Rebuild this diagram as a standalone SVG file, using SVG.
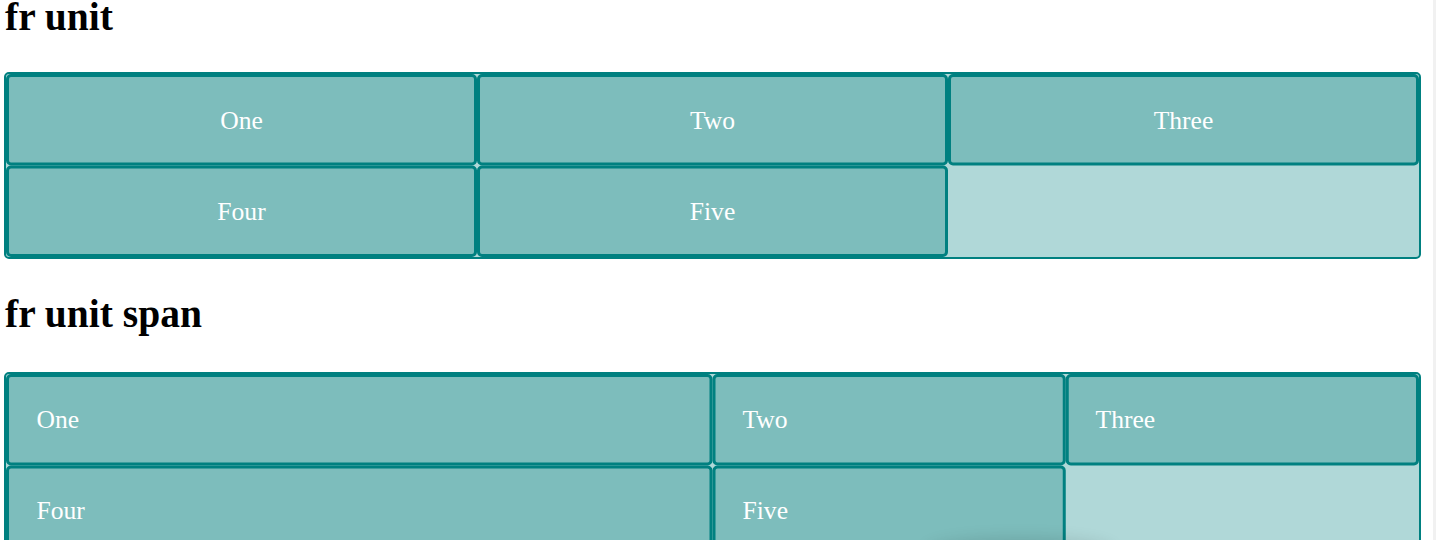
<svg xmlns="http://www.w3.org/2000/svg" width="1436" height="540" viewBox="0 0 1436 540">
<style>
  .h { font-family: "Liberation Serif", "Times New Roman", serif; font-weight: bold; font-size: 39.5px; fill: #000; }
  .wrap { fill: #b0d8d8; stroke: #008080; stroke-width: 2; }
  .item { fill: #7dbdbc; stroke: #008080; stroke-width: 3; }
  .t { font-family: "Liberation Serif", "Times New Roman", serif; font-size: 25.6px; fill: #ffffff; }
  .c { text-anchor: middle; }
</style>
<defs>
  <filter id="blur" x="-50%" y="-50%" width="200%" height="200%">
    <feGaussianBlur stdDeviation="8"/>
  </filter>
</defs>
<rect x="0" y="0" width="1436" height="540" fill="#ffffff"/>
<rect x="1433" y="0" width="3" height="540" fill="#f1f1f1"/>

<text class="h" x="5" y="29.5">fr unit</text>

<g id="grid1">
  <rect class="wrap" x="5" y="73" width="1415" height="185" rx="4"/>
  <g id="g1-one"><rect class="item" x="7.5" y="75.5" width="468" height="88.5" rx="3.5"/><text class="t c" x="241.5" y="129">One</text></g>
  <g id="g1-two"><rect class="item" x="478.5" y="75.5" width="468" height="88.5" rx="3.5"/><text class="t c" x="712.5" y="129">Two</text></g>
  <g id="g1-three"><rect class="item" x="949.5" y="75.5" width="468" height="88.5" rx="3.5"/><text class="t c" x="1183.5" y="129">Three</text></g>
  <g id="g1-four"><rect class="item" x="7.5" y="167" width="468" height="88.5" rx="3.5"/><text class="t c" x="241.5" y="219.5">Four</text></g>
  <g id="g1-five"><rect class="item" x="478.5" y="167" width="468" height="88.5" rx="3.5"/><text class="t c" x="712.5" y="219.5">Five</text></g>
</g>

<text class="h" x="5" y="327">fr unit span</text>

<g id="grid2">
  <rect class="wrap" x="5" y="373" width="1415" height="185" rx="4"/>
  <g id="g2-one"><rect class="item" x="7.5" y="375.5" width="703.5" height="88.5" rx="3.5"/><text class="t" x="36.5" y="428">One</text></g>
  <g id="g2-two"><rect class="item" x="714" y="375.5" width="350.25" height="88.5" rx="3.5"/><text class="t" x="742.5" y="428">Two</text></g>
  <g id="g2-three"><rect class="item" x="1067.25" y="375.5" width="350.25" height="88.5" rx="3.5"/><text class="t" x="1095.5" y="428">Three</text></g>
  <g id="g2-four"><rect class="item" x="7.5" y="467" width="703.5" height="88.5" rx="3.5"/><text class="t" x="36.5" y="519">Four</text></g>
  <g id="g2-five"><rect class="item" x="714" y="467" width="350.25" height="88.5" rx="3.5"/><text class="t" x="742.5" y="519">Five</text></g>
</g>

<g id="connectors"></g>

<ellipse cx="1020" cy="552" rx="95" ry="14" fill="#000000" opacity="0.12" filter="url(#blur)"/>
</svg>
